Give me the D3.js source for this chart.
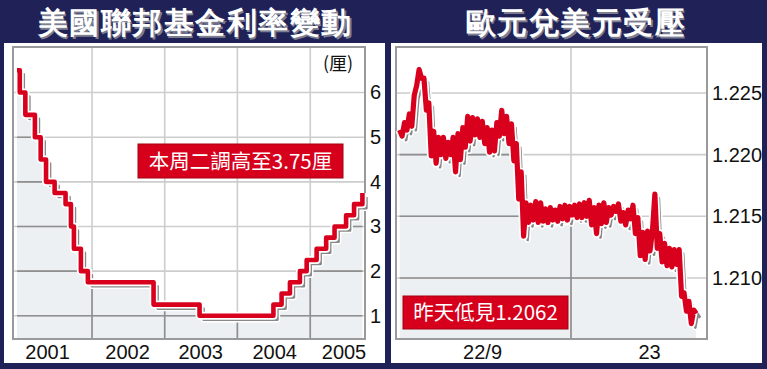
<!DOCTYPE html>
<html>
<head>
<meta charset="utf-8">
<script src="https://cdn.jsdelivr.net/npm/d3@7"></script>
<style>
    body { margin: 0; background: #1f2157; }
    svg { display: block; }
    text { font-family: "Liberation Sans", Arial, sans-serif; }
    .cjk { font-family: "Noto Sans CJK TC", "Noto Sans CJK SC", sans-serif; }
</style>
</head>
<body>
<svg width="767" height="369"></svg>
<script>
const width = 767;
const height = 369;
const navy = "#1f2157";
const red = "#d8001d";

// 左圖：聯邦基金利率 (厘)
const fedTitle = "美國聯邦基金利率變動";
const fedDates = [
    "2000-12-20", "2001-01-03", "2001-01-31", "2001-03-20", "2001-04-18",
    "2001-05-15", "2001-06-27", "2001-08-21", "2001-09-17", "2001-10-02",
    "2001-11-06", "2001-12-11", "2002-11-06", "2003-06-25", "2004-06-30",
    "2004-08-10", "2004-09-21", "2004-11-10", "2004-12-14", "2005-02-02",
    "2005-03-22", "2005-05-03", "2005-06-30", "2005-08-09", "2005-09-20",
];
const fedRates = [
    6.5, 6.0, 5.5, 5.0, 4.5, 4.0, 3.75, 3.5, 3.0, 2.5, 2.0, 1.75, 1.25,
    1.0, 1.25, 1.5, 1.75, 2.0, 2.25, 2.5, 2.75, 3.0, 3.25, 3.5, 3.75,
];
const fedYTicks = [1, 2, 3, 4, 5, 6];
const fedYearLabels = ["2001", "2002", "2003", "2004", "2005"];
const fedYearLabelDates = ["2001-05-20", "2002-06-26", "2003-06-28", "2004-07-04", "2005-06-17"];
const fedGridDates = ["2002-01-01", "2003-01-01", "2004-01-01", "2005-01-01"];
const fedUnit = "(厘)";
const fedNote = "本周二調高至3.75厘";

// 右圖：歐元兌美元 (每20分鐘一點)
const eurTitle = "歐元兌美元受壓";
const eurStartHour = 0.5;
const eurStepHours = 1 / 3;
const eurRates = [
    1.2220, 1.2215, 1.2226, 1.2220, 1.2233, 1.2223, 1.2248, 1.2256, 1.2269, 1.2262,
    1.2262, 1.2236, 1.2242, 1.2199, 1.2219, 1.2193, 1.2214, 1.2200, 1.2214, 1.2197,
    1.2210, 1.2200, 1.2214, 1.2186, 1.2217, 1.2196, 1.2222, 1.2206, 1.2231, 1.2211,
    1.2230, 1.2216, 1.2229, 1.2214, 1.2227, 1.2209, 1.2222, 1.2202, 1.2220, 1.2203,
    1.2226, 1.2215, 1.2236, 1.2217, 1.2231, 1.2209, 1.2225, 1.2195, 1.2209, 1.2164,
    1.2186, 1.2134, 1.2161, 1.2145, 1.2159, 1.2147, 1.2162, 1.2145, 1.2161, 1.2146,
    1.2156, 1.2145, 1.2157, 1.2147, 1.2155, 1.2146, 1.2158, 1.2148, 1.2159, 1.2147,
    1.2158, 1.2151, 1.2159, 1.2149, 1.2160, 1.2149, 1.2161, 1.2150, 1.2163, 1.2143,
    1.2157, 1.2136, 1.2159, 1.2144, 1.2161, 1.2145, 1.2157, 1.2151, 1.2158, 1.2154,
    1.2160, 1.2146, 1.2153, 1.2143, 1.2155, 1.2148, 1.2159, 1.2136, 1.2149, 1.2118,
    1.2137, 1.2115, 1.2138, 1.2122, 1.2138, 1.2168, 1.2124, 1.2136, 1.2113, 1.2128,
    1.2110, 1.2124, 1.2109, 1.2123, 1.2111, 1.2123, 1.2085, 1.2088, 1.2073, 1.2081,
    1.2063, 1.2074, 1.2071,
];
const eurYTicks = [1.210, 1.215, 1.220, 1.225];
const eurDayLabels = ["22/9", "23"];
const eurDayLabelHours = [11.8, 34.7];
const eurGridHours = [24];
const eurNote = "昨天低見1.2062";

const parseDate = d3.timeParse("%Y-%m-%d");
const svg = d3.select("svg").attr("width", width).attr("height", height);

svg.append("rect").attr("width", width).attr("height", height).attr("fill", navy);

const drawTitle = (text, cx) => {
    const t = svg.append("g").attr("class", "cjk")
        .style("font-size", "30px").style("font-weight", 900).style("letter-spacing", "1.5px");
    t.append("text").attr("x", cx + 1.5).attr("y", 34.5).attr("text-anchor", "middle")
        .attr("fill", "#7c7e90").text(text);
    t.append("text").attr("x", cx).attr("y", 33).attr("text-anchor", "middle")
        .attr("fill", "#fff").text(text);
};

const drawChart = (opt) => {
    const { id, panel, plot, x, y, points, curve, xGrid, yGrid, lineWidth } = opt;
    svg.append("rect")
        .attr("x", panel.x).attr("y", panel.y)
        .attr("width", panel.w).attr("height", panel.h)
        .attr("fill", "#fff");

    const g = svg.append("g").attr("id", id);
    const line = d3.line().x((d) => x(d[0])).y((d) => y(d[1])).curve(curve);
    const area = d3.area().x((d) => x(d[0])).y0(plot.bottom).y1((d) => y(d[1])).curve(curve);

    g.append("clipPath").attr("id", id + "-clip")
        .append("path").attr("d", area(points));
    g.append("path").attr("d", area(points)).attr("fill", "#edf0f3");

    const grid = (sel, color) => {
        sel.selectAll("line.h").data(yGrid).join("line")
            .attr("x1", plot.left).attr("x2", plot.right)
            .attr("y1", (d) => y(d)).attr("y2", (d) => y(d));
        sel.selectAll("line.v").data(xGrid).join("line")
            .attr("x1", (d) => x(d)).attr("x2", (d) => x(d))
            .attr("y1", plot.top).attr("y2", plot.bottom);
        sel.selectAll("line").attr("stroke", color).attr("stroke-width", 1.6);
    };
    grid(g.append("g"), "#cdcdcd");
    grid(g.append("g").attr("clip-path", `url(#${id}-clip)`), "#8f8f8f");

    g.append("rect")
        .attr("x", plot.left).attr("y", plot.top)
        .attr("width", plot.right - plot.left).attr("height", plot.bottom - plot.top)
        .attr("fill", "none").attr("stroke", "#9a9a9a").attr("stroke-width", 2);

    const shadow = g.append("g").attr("transform", "translate(4,4)");
    shadow.append("path").attr("d", line(points)).attr("fill", "none")
        .attr("stroke", "#fff").attr("stroke-width", 5.5).attr("stroke-linejoin", "round");
    shadow.append("path").attr("d", line(points)).attr("fill", "none")
        .attr("stroke", "#888").attr("stroke-width", 2.6).attr("stroke-linejoin", "round");

    g.append("path").attr("d", line(points)).attr("fill", "none")
        .attr("stroke", "#fff").attr("stroke-width", lineWidth + 3.4).attr("stroke-linejoin", "round");
    g.append("path").attr("d", line(points)).attr("fill", "none")
        .attr("stroke", red).attr("stroke-width", lineWidth).attr("stroke-linejoin", "round");
    return g;
};

const styleAxis = (sel) => {
    sel.select(".domain").remove();
    sel.selectAll("text").attr("fill", "#111").style("font-size", "20px")
        .style("font-family", "'Liberation Sans', Arial, sans-serif");
};

const drawNote = (text, box) => {
    svg.append("rect")
        .attr("x", box.x).attr("y", box.y).attr("width", box.w).attr("height", box.h)
        .attr("fill", "#d6001c").attr("stroke", "#a3000f").attr("stroke-width", 1);
    svg.append("text").attr("class", "cjk")
        .attr("x", box.x + box.w / 2).attr("y", box.y + box.h / 2 + 7.5)
        .attr("text-anchor", "middle").attr("fill", "#fff")
        .style("font-size", "20.5px").text(text);
};

// ---- 左圖 ----
drawTitle(fedTitle, 195);
const fedPlot = { left: 13, right: 365, top: 47, bottom: 339 };
const fedX = d3.scaleTime()
    .domain([parseDate("2000-11-30"), parseDate("2005-10-08")])
    .range([fedPlot.left, fedPlot.right + 1]);
const fedY = d3.scaleLinear().domain([0.48, 7.02]).range([fedPlot.bottom, fedPlot.top]);
const fedPoints = fedDates.map((d, i) => [parseDate(d), fedRates[i]]);

drawChart({
    id: "fed",
    panel: { x: 4, y: 43, w: 381, h: 320 },
    plot: fedPlot,
    x: fedX,
    y: fedY,
    points: fedPoints,
    curve: d3.curveStepAfter,
    xGrid: fedGridDates.map(parseDate),
    yGrid: fedYTicks,
    lineWidth: 4.6,
});

svg.append("g")
    .attr("transform", `translate(${fedPlot.right},0)`)
    .call(d3.axisRight(fedY).tickValues(fedYTicks).tickFormat(d3.format("d"))
        .tickSize(0).tickPadding(5))
    .call(styleAxis);

svg.append("g")
    .attr("transform", `translate(0,${fedPlot.bottom})`)
    .call(d3.axisBottom(fedX).tickValues(fedYearLabelDates.map(parseDate))
        .tickFormat((d, i) => fedYearLabels[i]).tickSize(0).tickPadding(6))
    .call(styleAxis);

svg.append("text").attr("class", "cjk")
    .attr("x", 338).attr("y", 70).attr("text-anchor", "middle")
    .attr("fill", "#111").style("font-size", "18px").text(fedUnit);

drawNote(fedNote, { x: 138, y: 144, w: 205, h: 34 });

// ---- 右圖 ----
drawTitle(eurTitle, 576);
const eurPlot = { left: 396, right: 707, top: 47, bottom: 339 };
const eurX = d3.scaleLinear().domain([0, 42.65]).range([eurPlot.left, eurPlot.right]);
const eurY = d3.scaleLinear().domain([1.20505, 1.22873]).range([eurPlot.bottom, eurPlot.top]);
const eurPoints = eurRates.map((v, i) => [eurStartHour + i * eurStepHours, v]);

drawChart({
    id: "eur",
    panel: { x: 391, y: 43, w: 371, h: 320 },
    plot: eurPlot,
    x: eurX,
    y: eurY,
    points: eurPoints,
    curve: d3.curveLinear,
    xGrid: eurGridHours,
    yGrid: eurYTicks,
    lineWidth: 5.2,
});

svg.append("g")
    .attr("transform", `translate(${eurPlot.right},0)`)
    .call(d3.axisRight(eurY).tickValues(eurYTicks).tickFormat(d3.format(".3f"))
        .tickSize(0).tickPadding(5))
    .call(styleAxis);

svg.append("g")
    .attr("transform", `translate(0,${eurPlot.bottom})`)
    .call(d3.axisBottom(eurX).tickValues(eurDayLabelHours)
        .tickFormat((d, i) => eurDayLabels[i]).tickSize(0).tickPadding(6))
    .call(styleAxis);

drawNote(eurNote, { x: 403, y: 296, w: 165, h: 33 });
</script>
</body>
</html>
